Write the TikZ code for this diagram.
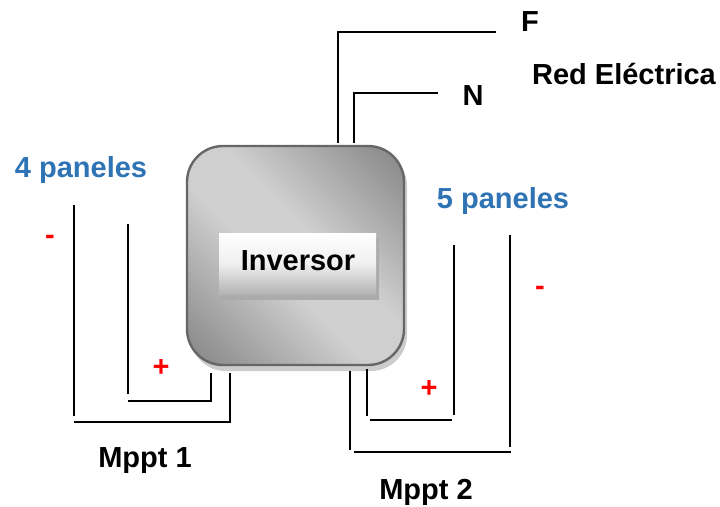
\documentclass[tikz,border=0pt]{standalone}
\usepackage{fontspec}
\setmainfont{Liberation Sans}
\definecolor{bluetxt}{HTML}{2E74B5}
\colorlet{bodylight}{black!19}
\colorlet{bodydark}{black!54}
\tikzset{
  x=1pt,y=-1pt,
  wire/.style={draw=black,line width=2pt},
  lbl/.style={font=\bfseries\fontsize{29}{32}\selectfont,inner sep=0pt,text=black},
  paneltxt/.style={lbl,text=bluetxt},
  sign/.style={lbl,text=red},
}
\begin{document}
\begin{tikzpicture}
\useasboundingbox (0,0) rectangle (720,506);
% inverter body
\fill[black!20,rounded corners=36pt] (190,150) rectangle (407,371);
\begin{scope}
  \clip[rounded corners=36pt] (187,146) rectangle (404,365);
  \begin{scope}[transform canvas={shift={(295.5,255.5)},rotate=45}]
    \fill[bodylight] (-29,-170) rectangle (29,170);
    \shade[left color=bodydark,right color=bodylight] (-177.5,-170) rectangle (-27.5,170);
    \shade[left color=bodylight,right color=bodydark] (27.5,-170) rectangle (177.5,170);
  \end{scope}
\end{scope}
\draw[rounded corners=36pt,draw=black!60,line width=2.4pt] (187,146) rectangle (404,365);
\fill[black!33] (221,238) rectangle (378.5,300);
\node[minimum width=157pt,minimum height=61pt,inner sep=0pt,top color=white,bottom color=black!30,
  middle color=black!6,lbl] (inv) at (297.5,263.5) {};
\node[lbl] (invtxt) at (298,261) {Inversor};
% labels
\node[lbl] (f) at (530,22) {F};
\node[lbl] (n) at (473,96) {N};
\node[lbl] (red) at (624,74) {Red Eléctrica};
\node[paneltxt] (p4) at (81,170) {4 paneles};
\node[paneltxt] (p5) at (503,201) {5 paneles};
\node[sign] (m1) at (50,240) {-};
\node[sign] (p1) at (161,368) {+};
\node[sign] (p2) at (429,389) {+};
\node[sign] (m2) at (540,291) {-};
\node[lbl] (mp1) at (145,461) {Mppt 1};
\node[lbl] (mp2) at (426,492) {Mppt 2};
% connector end points
\coordinate (fa) at (338,143); \coordinate (fb) at (338,32); \coordinate (fc) at (496,32);
\coordinate (na) at (354,143); \coordinate (nb) at (354,93); \coordinate (nc) at (438,93);
\coordinate (la) at (74,205); \coordinate (lb) at (74,416);
\coordinate (lc) at (74,422); \coordinate (ld) at (231,422); \coordinate (le) at (230,373);
\coordinate (ia) at (128,224); \coordinate (ib) at (128,394);
\coordinate (ic) at (128,401); \coordinate (id) at (211,401);
\coordinate (ie) at (211,373); \coordinate (if) at (211,402);
\coordinate (ra) at (350,371); \coordinate (rb) at (350,450);
\coordinate (rc) at (354,452); \coordinate (rd) at (511,452);
\coordinate (re) at (510,235); \coordinate (rf) at (510,447);
\coordinate (sa) at (367,369); \coordinate (sb) at (367,416);
\coordinate (sc) at (370,420); \coordinate (sd) at (452,420);
\coordinate (se) at (454,245); \coordinate (sf) at (454,415);
% connectors
\draw[wire] (fa) -- (fb) -- (fc);
\draw[wire] (na) -- (nb) -- (nc);
\draw[wire] (la) -- (lb);
\draw[wire] (lc) -- (ld);
\draw[wire] (le) -- (le |- ld);
\draw[wire] (ia) -- (ib);
\draw[wire] (ic) -- (id);
\draw[wire] (ie) -- (if);
\draw[wire] (ra) -- (rb);
\draw[wire] (rc) -- (rd);
\draw[wire] (re) -- (rf);
\draw[wire] (sa) -- (sb);
\draw[wire] (sc) -- (sd);
\draw[wire] (se) -- (sf);
\end{tikzpicture}
\end{document}
